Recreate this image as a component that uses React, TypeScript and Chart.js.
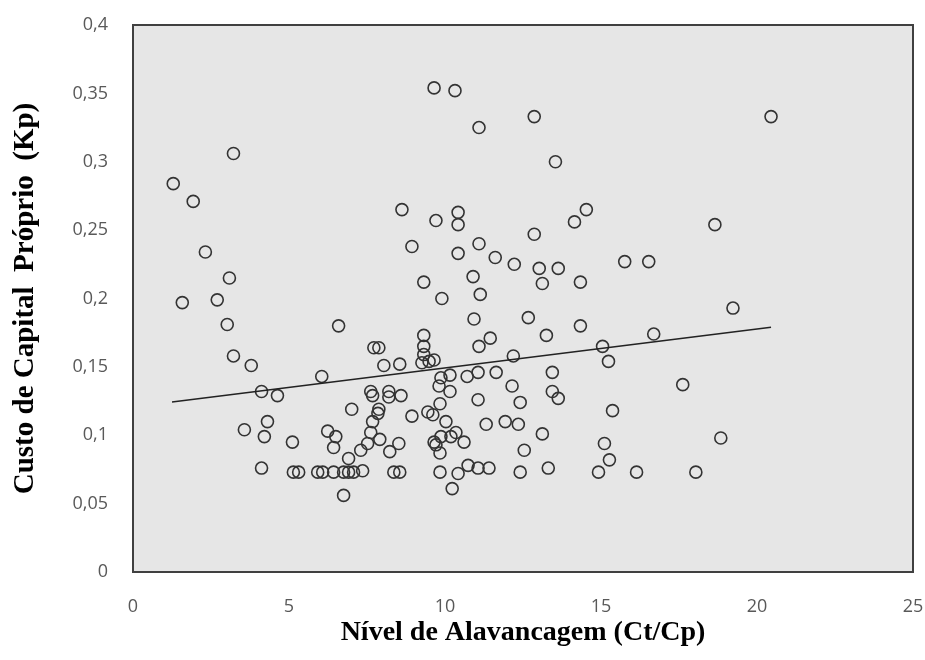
import React, { useEffect, useRef } from "react";
import { Chart, registerables } from "chart.js";

Chart.register(...registerables);

// Nível de Alavancagem (Ct/Cp)
const leverage: number[] = [
  1.29, 1.93, 3.22, 2.32, 3.09, 1.58, 2.70, 3.02, 3.22, 3.79,
  4.12, 4.63, 3.57, 4.31, 4.21, 4.12, 5.11, 5.14, 5.31, 5.92,
  6.08, 6.43, 6.75, 6.91, 7.07, 7.36, 6.59, 6.05, 7.01, 6.24,
  6.50, 6.43, 6.91, 6.75, 7.30, 7.52, 7.62, 7.68, 7.88, 7.85,
  7.91, 7.62, 7.68, 7.72, 7.88, 8.04, 8.20, 8.20, 8.59, 8.55,
  8.23, 8.52, 8.36, 8.55, 8.94, 8.62, 8.94, 9.32, 9.90, 9.65,
  10.32, 11.09, 9.71, 10.42, 10.42, 10.42, 11.09, 10.90, 11.13, 10.93,
  9.32, 9.32, 9.32, 9.26, 9.49, 9.65, 9.87, 9.81, 10.16, 10.16,
  10.71, 11.06, 11.64, 11.09, 11.45, 11.06, 9.84, 9.45, 9.61, 10.03,
  9.87, 10.35, 10.19, 10.61, 9.65, 9.71, 9.84, 11.32, 11.93, 12.35,
  9.84, 10.42, 10.74, 11.06, 11.41, 10.23, 12.19, 12.15, 12.41, 13.12,
  12.54, 12.41, 13.31, 13.44, 13.44, 13.63, 13.25, 12.67, 12.86, 13.54,
  14.53, 14.15, 12.86, 11.61, 12.22, 13.02, 13.63, 13.12, 14.34, 15.76,
  16.53, 14.34, 20.45, 18.65, 19.23, 16.69, 15.05, 15.24, 17.62, 15.37,
  18.84, 15.11, 15.27, 14.92, 16.14, 18.04,
];

// Custo de Capital Próprio (Kp)
const costOfEquity: number[] = [
  0.284, 0.271, 0.306, 0.234, 0.215, 0.197, 0.199, 0.181, 0.158, 0.151,
  0.132, 0.129, 0.104, 0.110, 0.099, 0.076, 0.095, 0.073, 0.073, 0.073,
  0.073, 0.073, 0.073, 0.073, 0.073, 0.074, 0.180, 0.143, 0.119, 0.103,
  0.099, 0.091, 0.083, 0.056, 0.089, 0.094, 0.102, 0.110, 0.119, 0.116,
  0.097, 0.132, 0.129, 0.164, 0.164, 0.151, 0.132, 0.128, 0.129, 0.152,
  0.088, 0.094, 0.073, 0.073, 0.114, 0.265, 0.238, 0.212, 0.200, 0.354,
  0.352, 0.325, 0.257, 0.263, 0.254, 0.233, 0.240, 0.216, 0.203, 0.185,
  0.173, 0.165, 0.159, 0.153, 0.154, 0.155, 0.142, 0.136, 0.144, 0.132,
  0.143, 0.146, 0.146, 0.165, 0.171, 0.126, 0.123, 0.117, 0.115, 0.110,
  0.099, 0.102, 0.099, 0.095, 0.095, 0.093, 0.087, 0.108, 0.110, 0.108,
  0.073, 0.072, 0.078, 0.076, 0.076, 0.061, 0.158, 0.136, 0.124, 0.101,
  0.089, 0.073, 0.076, 0.146, 0.132, 0.127, 0.173, 0.186, 0.333, 0.300,
  0.265, 0.256, 0.247, 0.230, 0.225, 0.222, 0.222, 0.211, 0.212, 0.227,
  0.227, 0.180, 0.333, 0.254, 0.193, 0.174, 0.165, 0.154, 0.137, 0.118,
  0.098, 0.094, 0.082, 0.073, 0.073, 0.073,
];

// Linear trend line end points
const trendX: number[] = [1.25, 20.45];
const trendY: number[] = [0.1243, 0.179];

const xTicks: number[] = [0, 5, 10, 15, 20, 25];
const yTicks: number[] = [0, 0.05, 0.1, 0.15, 0.2, 0.25, 0.3, 0.35, 0.4];

const plotFrame = {
  id: "plotFrame",
  beforeDatasetsDraw(chart: any) {
    const { ctx, chartArea } = chart;
    ctx.save();
    ctx.fillStyle = "#e6e6e6";
    ctx.fillRect(chartArea.left, chartArea.top, chartArea.right - chartArea.left, chartArea.bottom - chartArea.top);
    ctx.restore();
  },
  afterDatasetsDraw(chart: any) {
    const { ctx, chartArea } = chart;
    ctx.save();
    ctx.strokeStyle = "#404040";
    ctx.lineWidth = 2;
    ctx.strokeRect(chartArea.left, chartArea.top, chartArea.right - chartArea.left, chartArea.bottom - chartArea.top);
    ctx.restore();
  },
};

export default function App() {
  const ref = useRef<HTMLCanvasElement | null>(null);

  useEffect(() => {
    if (!ref.current) return;
    const points = leverage.map((x, i) => ({ x, y: costOfEquity[i] }));
    const trend = trendX.map((x, i) => ({ x, y: trendY[i] }));
    const fmt = (v: number) => String(Number(v.toFixed(2))).replace(".", ",");
    const chart = new Chart(ref.current, {
      type: "scatter",
      data: {
        datasets: [
          {
            type: "line",
            data: trend,
            borderColor: "#222222",
            borderWidth: 1.5,
            pointRadius: 0,
            fill: false,
            order: 0,
          } as any,
          {
            data: points,
            pointRadius: 6,
            pointBorderWidth: 1.6,
            pointBorderColor: "#333333",
            pointBackgroundColor: "rgba(0,0,0,0)",
            order: 1,
          },
        ],
      },
      options: {
        animation: false,
        responsive: false,
        maintainAspectRatio: false,
        layout: { padding: { top: 25, right: 12, left: 0, bottom: 0 } },
        plugins: { legend: { display: false }, tooltip: { enabled: false } },
        scales: {
          x: {
            type: "linear",
            min: 0,
            max: 25,
            afterBuildTicks: (s: any) => { s.ticks = xTicks.map((v) => ({ value: v })); },
            afterFit: (s: any) => { s.height = 88; s.paddingLeft = 0; s.paddingRight = 0; },
            grid: { display: false, drawTicks: false },
            border: { display: false },
            ticks: { padding: 24, color: "#595959", font: { family: "Open Sans", size: 18 }, callback: (v: any) => String(v) },
            title: {
              display: true,
              text: "Nível de Alavancagem (Ct/Cp)",
              color: "#000000",
              font: { family: "Liberation Serif", size: 28, weight: "bold" },
              padding: { top: 0, bottom: 10 },
            },
          },
          y: {
            type: "linear",
            min: 0,
            max: 0.4,
            afterBuildTicks: (s: any) => { s.ticks = yTicks.map((v) => ({ value: v })); },
            afterFit: (s: any) => { s.width = 133; s.paddingTop = 0; s.paddingBottom = 0; },
            grid: { display: false, drawTicks: false },
            border: { display: false },
            ticks: { padding: 25, color: "#595959", font: { family: "Open Sans", size: 18 }, callback: (v: any) => fmt(Number(v)) },
            title: {
              display: true,
              text: "Custo de Capital  Próprio  (Kp)",
              color: "#000000",
              font: { family: "Liberation Serif", size: 29, weight: "bold" },
              padding: { top: 8, bottom: 0 },
            },
          },
        },
      },
      plugins: [plotFrame],
    });
    return () => chart.destroy();
  }, []);

  return (
    <div style={{ position: "fixed", left: 0, top: 0, width: 925, height: 660, background: "#ffffff" }}>
      <canvas ref={ref} width={925} height={660} style={{ width: 925, height: 660 }} />
    </div>
  );
}
